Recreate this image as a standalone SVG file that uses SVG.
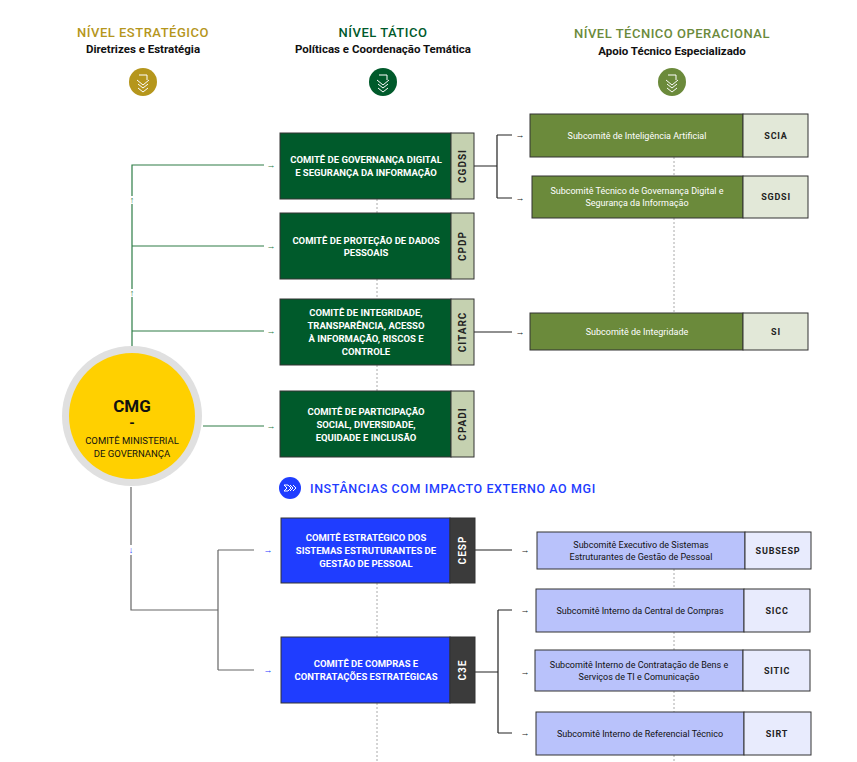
<svg xmlns="http://www.w3.org/2000/svg" width="857" height="762" viewBox="0 0 857 762">
<style>
text{font-family:Roboto,"Liberation Sans",sans-serif}
.h{font-size:13px;font-weight:500;letter-spacing:0.5px;text-anchor:middle}
.s{font-size:11.5px;font-weight:700;text-anchor:middle;fill:#111}
.tw{font-size:9.5px;font-weight:700;fill:#fff;text-anchor:middle}
.tag{font-size:10px;font-weight:700;letter-spacing:1px;text-anchor:middle}
.sub{font-size:9px;fill:#fff;text-anchor:middle}
.subd{font-size:9px;fill:#111;text-anchor:middle}
.st{font-size:9px;font-weight:700;letter-spacing:0.8px;text-anchor:middle;fill:#222}
.g{fill:#005a2b;stroke:#333;stroke-width:1}
.gt{fill:#c5d1b0;stroke:#333;stroke-width:1}
.o{fill:#6b8a3b;stroke:#333;stroke-width:1}
.ot{fill:#e2e8d8;stroke:#333;stroke-width:1}
.b{fill:#1f3dff;stroke:#333;stroke-width:1}
.bt{fill:#3b3b3b;stroke:#333;stroke-width:1}
.l{fill:#b9c2fb;stroke:#333;stroke-width:1}
.lt{fill:#e8ebfd;stroke:#333;stroke-width:1}
.dot{stroke:#aaa;stroke-width:1;stroke-dasharray:2 2;fill:none}
.ln{fill:none;stroke-width:1.2}
.ar{font-size:9px;text-anchor:middle}
.chev{fill:none;stroke:#fff;stroke-width:1}
</style>
<g id="headers">
<text class="h" x="143" y="37" fill="#b5961c">NÍVEL ESTRATÉGICO</text>
<text class="s" x="143" y="53">Diretrizes e Estratégia</text>
<text class="h" x="383" y="37" fill="#005a2b">NÍVEL TÁTICO</text>
<text class="s" x="383" y="53">Políticas e Coordenação Temática</text>
<text class="h" x="672" y="38" fill="#6b8a3b">NÍVEL TÉCNICO OPERACIONAL</text>
<text class="s" x="672" y="55">Apoio Técnico Especializado</text>
<g><circle cx="143" cy="82" r="14" fill="#b5961c"/><path class="chev" d="M139 75h8v5M137 80l6 5 6-5M138 84l5 4 5-4M138 88l5 4 5-4"/></g>
<g><circle cx="383" cy="82" r="14" fill="#005a2b"/><path class="chev" d="M379 75h8v5M377 80l6 5 6-5M378 84l5 4 5-4M378 88l5 4 5-4"/></g>
<g><circle cx="672" cy="82" r="14" fill="#6b8a3b"/><path class="chev" d="M668 75h8v5M666 80l6 5 6-5M667 84l5 4 5-4M667 88l5 4 5-4"/></g>
</g>
<g id="connectors">
<path class="dot" d="M377 199V213M377 279V299M377 365V391M377 583V637M377 703V762M674 157V176M674 218V313M674 569V589M674 632V650M674 691V712M674 755V762"/>
<path class="ln" stroke="#2e7d47" d="M132 352V297M132 289V204M132 196V165H264M132 246H264M132 331H264M203 426H264"/>
<path class="ln" stroke="#666" d="M131 487V545M131 555V610H218M218 550V670M218 550H254M218 670H254"/>
<path class="ln" stroke="#222" d="M474 166H497M497 135V198M497 135H512M497 198H512M474 332H512M475 550H512M475 672H498M498 610V733M498 610H512M498 733H512"/>
<text class="ar" x="132" y="203" fill="#2e7d47">↑</text>
<text class="ar" x="132" y="296" fill="#2e7d47">↑</text>
<text class="ar" x="131" y="553" fill="#1f3dff">↓</text>
<g fill="#2e7d47"><text class="ar" x="271" y="168">→</text><text class="ar" x="271" y="249">→</text><text class="ar" x="271" y="334">→</text><text class="ar" x="271" y="429">→</text></g>
<g fill="#1f3dff"><text class="ar" x="268" y="553">→</text><text class="ar" x="268" y="673">→</text></g>
<g fill="#222"><text class="ar" x="520" y="138">→</text><text class="ar" x="520" y="201">→</text><text class="ar" x="520" y="335">→</text><text class="ar" x="525" y="553">→</text><text class="ar" x="525" y="613">→</text><text class="ar" x="525" y="675">→</text><text class="ar" x="525" y="736">→</text></g>
</g>
<g id="cmg">
<circle cx="132" cy="416" r="70" fill="#e0e0e0"/>
<circle cx="132" cy="416" r="63" fill="#ffd000"/>
<text x="132" y="412" text-anchor="middle" font-size="17" font-weight="700" fill="#111">CMG</text>
<text x="132" y="428" text-anchor="middle" font-size="14" font-weight="700" fill="#111">-</text>
<text x="132" y="444" text-anchor="middle" font-size="9.5" fill="#111">COMITÊ MINISTERIAL</text>
<text x="132" y="457" text-anchor="middle" font-size="9.5" fill="#111">DE GOVERNANÇA</text>
</g>
<g id="cgdsi"><rect class="g" x="280" y="133" width="171" height="66"/><rect class="gt" x="451" y="133" width="23" height="66"/>
<text class="tw" x="366" y="163" font-weight="400">COMITÊ DE <tspan font-weight="700">GOVERNANÇA DIGITAL</tspan></text><text class="tw" x="366" y="176">E SEGURANÇA DA INFORMAÇÃO</text>
<text class="tag" transform="translate(466 166) rotate(-90)" fill="#222">CGDSI</text></g>
<g id="cpdp"><rect class="g" x="280" y="213" width="171" height="66"/><rect class="gt" x="451" y="213" width="23" height="66"/>
<text class="tw" x="366" y="244">COMITÊ DE PROTEÇÃO DE DADOS</text><text class="tw" x="366" y="256">PESSOAIS</text>
<text class="tag" transform="translate(466 246) rotate(-90)" fill="#222">CPDP</text></g>
<g id="citarc"><rect class="g" x="280" y="299" width="171" height="66"/><rect class="gt" x="451" y="299" width="23" height="66"/>
<text class="tw" x="366" y="316">COMITÊ DE INTEGRIDADE,</text><text class="tw" x="366" y="329">TRANSPARÊNCIA, ACESSO</text><text class="tw" x="366" y="342">À INFORMAÇÃO, RISCOS E</text><text class="tw" x="366" y="355">CONTROLE</text>
<text class="tag" transform="translate(466 332) rotate(-90)" fill="#222">CITARC</text></g>
<g id="cpadi"><rect class="g" x="280" y="391" width="171" height="66"/><rect class="gt" x="451" y="391" width="23" height="66"/>
<text class="tw" x="366" y="415">COMITÊ DE PARTICIPAÇÃO</text><text class="tw" x="366" y="428">SOCIAL, DIVERSIDADE,</text><text class="tw" x="366" y="441">EQUIDADE E INCLUSÃO</text>
<text class="tag" transform="translate(466 424) rotate(-90)" fill="#222">CPADI</text></g>
<g id="externo"><circle cx="290" cy="488" r="11" fill="#1f3dff"/><path class="chev" d="M284 485h4l3 3-3 3h-4l3-3zM290 485l3 3-3 3M293 485l3 3-3 3"/>
<text x="310" y="493" font-size="12.5" font-weight="500" letter-spacing="0.6" fill="#1f3dff">INSTÂNCIAS COM IMPACTO EXTERNO AO MGI</text></g>
<g id="cesp"><rect class="b" x="281" y="518" width="169" height="65"/><rect class="bt" x="450" y="518" width="25" height="65"/>
<text class="tw" x="366" y="541">COMITÊ ESTRATÉGICO DOS</text><text class="tw" x="366" y="554">SISTEMAS ESTRUTURANTES DE</text><text class="tw" x="366" y="567">GESTÃO DE PESSOAL</text>
<text class="tag" transform="translate(466 550) rotate(-90)" fill="#fff">CESP</text></g>
<g id="c3e"><rect class="b" x="281" y="637" width="169" height="66"/><rect class="bt" x="450" y="637" width="25" height="66"/>
<text class="tw" x="366" y="667">COMITÊ DE COMPRAS E</text><text class="tw" x="366" y="680">CONTRATAÇÕES ESTRATÉGICAS</text>
<text class="tag" transform="translate(466 670) rotate(-90)" fill="#fff">C3E</text></g>
<g id="scia"><rect class="o" x="530" y="114" width="213" height="43"/><rect class="ot" x="743" y="114" width="65" height="43"/>
<text class="sub" x="637" y="139">Subcomitê de Inteligência Artificial</text><text class="st" x="776" y="139">SCIA</text></g>
<g id="sgdsi"><rect class="o" x="532" y="176" width="211" height="42"/><rect class="ot" x="743" y="176" width="65" height="42"/>
<text class="sub" x="637" y="194">Subcomitê Técnico de Governança Digital e</text><text class="sub" x="637" y="206">Segurança da Informação</text><text class="st" x="776" y="200">SGDSI</text></g>
<g id="si"><rect class="o" x="530" y="313" width="213" height="37"/><rect class="ot" x="743" y="313" width="65" height="37"/>
<text class="sub" x="637" y="335">Subcomitê de Integridade</text><text class="st" x="776" y="335">SI</text></g>
<g id="subsesp"><rect class="l" x="537" y="532" width="208" height="37"/><rect class="lt" x="745" y="532" width="66" height="37"/>
<text class="subd" x="641" y="548">Subcomitê Executivo de Sistemas</text><text class="subd" x="641" y="560">Estruturantes de Gestão de Pessoal</text><text class="st" x="778" y="554">SUBSESP</text></g>
<g id="sicc"><rect class="l" x="536" y="589" width="208" height="43"/><rect class="lt" x="744" y="589" width="66" height="43"/>
<text class="subd" x="640" y="614">Subcomitê Interno da Central de Compras</text><text class="st" x="777" y="614">SICC</text></g>
<g id="sitic"><rect class="l" x="535" y="650" width="208" height="41"/><rect class="lt" x="743" y="650" width="67" height="41"/>
<text class="subd" x="639" y="668">Subcomitê Interno de Contratação de Bens e</text><text class="subd" x="639" y="680">Serviços de TI e Comunicação</text><text class="st" x="777" y="674">SITIC</text></g>
<g id="sirt"><rect class="l" x="536" y="712" width="208" height="43"/><rect class="lt" x="744" y="712" width="67" height="43"/>
<text class="subd" x="640" y="737">Subcomitê Interno de Referencial Técnico</text><text class="st" x="777" y="737">SIRT</text></g>
</svg>
